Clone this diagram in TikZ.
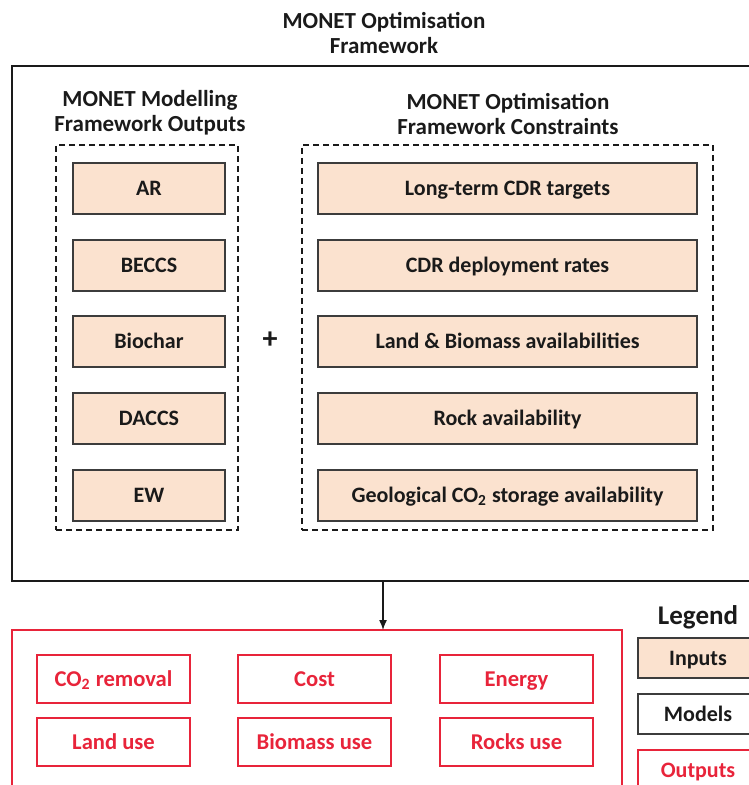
\documentclass[tikz,border=0pt]{standalone}
\usepackage{fontspec}
\setmainfont{Carlito}
\usetikzlibrary{arrows.meta}
\definecolor{peach}{HTML}{FBE2CF}
\definecolor{outred}{HTML}{E8243A}
\definecolor{ink}{HTML}{1A1A1A}
\begin{document}
\begin{tikzpicture}[x=0.5pt,y=-0.5pt,
  every node/.style={inner sep=0pt,outer sep=0pt,font=\bfseries\fontsize{11}{13}\selectfont,text=ink},
  title/.style={align=center,font=\bfseries\fontsize{11.5}{12.5}\selectfont},
  lbl/.style={text height=7pt,text depth=0pt},
  frame/.style={draw=ink,line width=1pt},
  group/.style={draw=ink,line width=0.8pt,dash pattern=on 3pt off 2pt},
  inbox/.style={lbl,draw=ink!85,fill=peach,line width=0.9pt,minimum height=25.5pt},
  outbox/.style={lbl,draw=outred,line width=0.8pt,text=outred,minimum width=76.5pt,minimum height=24pt,font=\bfseries\fontsize{11.3}{13}\selectfont},
  modelbox/.style={lbl,draw=ink!85,fill=white,line width=0.9pt,minimum width=60pt,minimum height=20pt}]
\useasboundingbox (0,0) rectangle (748,785);

% titles
\node[title] (ttl) at (384,33) {MONET Optimisation\\Framework};
\node[title] (lttl) at (150,113) {MONET Modelling\\Framework Outputs};
\node[title] (rttl) at (508,114) {MONET Optimisation\\Framework Constraints};

% outer frame (extends past the right edge)
\node[frame,minimum width=371pt,minimum height=257.5pt] (frame) at (383,323.5) {};

% dashed groups
\node[group,minimum width=91pt,minimum height=192.5pt] (gl) at (147,337.5) {};
\node[group,minimum width=205.5pt,minimum height=192.5pt] (gr) at (507.5,337.5) {};

% technology outputs
\node[inbox,minimum width=76pt] (ar)      at (149,188.5) {AR};
\node[inbox,minimum width=76pt] (beccs)   at (149,265.5) {BECCS};
\node[inbox,minimum width=76pt] (biochar) at (149,341.5) {Biochar};
\node[inbox,minimum width=76pt] (daccs)   at (149,418.5) {DACCS};
\node[inbox,minimum width=76pt] (ew)      at (149,495.5) {EW};

\node (plus) at (270,340) {\fontsize{15}{15}\selectfont +};

% constraints
\node[inbox,minimum width=189.5pt] (cdr)   at (507.5,188.5) {Long-term CDR targets};
\node[inbox,minimum width=189.5pt] (rates) at (507.5,265.5) {CDR deployment rates};
\node[inbox,minimum width=189.5pt] (land)  at (507.5,341.5) {Land \& Biomass availabilities};
\node[inbox,minimum width=189.5pt] (rock)  at (507.5,418.5) {Rock availability};
\node[inbox,minimum width=189.5pt] (geo)   at (507.5,495.5) {Geological CO\textsubscript{2} storage availability};

% optimisation outputs
\node[draw=outred,line width=0.9pt,minimum width=305pt,minimum height=80pt] (outs) at (317,710) {};
\node[outbox] (co2)   at (113.5,679) {CO\textsubscript{2} removal};
\node[outbox] (cost)  at (314.5,679) {Cost};
\node[outbox] (enrg)  at (516.5,679) {Energy};
\node[outbox] (landu) at (113.5,742) {Land use};
\node[outbox] (bio)   at (314.5,742) {Biomass use};
\node[outbox] (rocks) at (516.5,742) {Rocks use};

\draw[ink,line width=0.7pt,-{Latex[length=5pt,width=4pt]}] (frame.south) -- (frame.south |- outs.north);

% legend
\node[font=\bfseries\fontsize{13.5}{13.5}\selectfont] (leg) at (698,617) {Legend};
\node[inbox,minimum width=60pt,minimum height=20pt] (lin) at (698,658) {Inputs};
\node[modelbox] (lmod) at (698,714) {Models};
\node[lbl,draw=outred,line width=0.9pt,text=outred,minimum width=60pt,minimum height=20pt] (lout) at (698,770) {Outputs};
\end{tikzpicture}
\end{document}
